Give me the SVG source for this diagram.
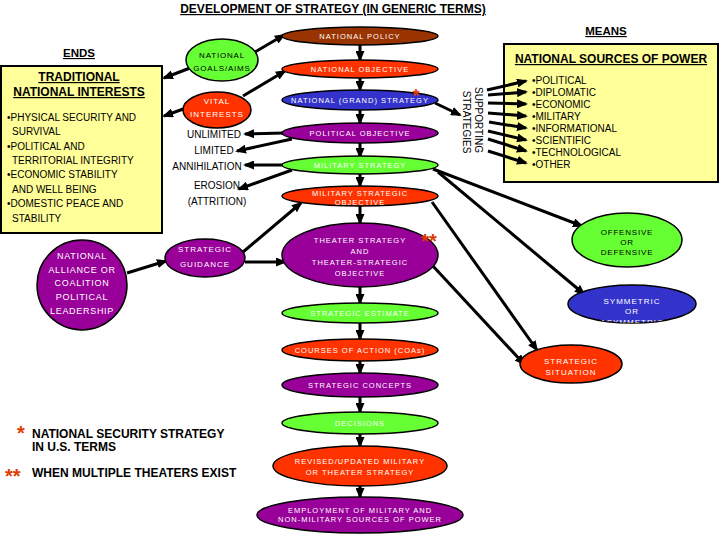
<svg xmlns="http://www.w3.org/2000/svg" width="720" height="540" viewBox="0 0 720 540">
<style>
text{font-family:"Liberation Sans",Arial,sans-serif}
.t{font-size:11.5px;font-weight:bold;text-decoration:underline}
.h{font-size:12px;font-weight:bold;text-decoration:underline}
.b{font-size:10px;fill:#000}
.e{font-size:7.5px;letter-spacing:1px;text-anchor:middle;fill:#fff}
.ed{font-size:8px;letter-spacing:0.8px;text-anchor:middle;fill:#000}
.n{stroke:#000;stroke-width:1.5}
.br{fill:#993300}.rd{fill:#ff3300}.bl{fill:#3333cc}.pu{fill:#990099}.gr{fill:#66ff33}
.box{fill:#ffff99;stroke:#000;stroke-width:2}
.lbl{font-size:10px;text-anchor:middle}
.fn{font-size:12px;font-weight:bold}
.ast{font-size:20px;font-weight:bold;fill:#e03c00}
#conn line{stroke:#000;stroke-width:3;marker-end:url(#ah)}
</style>
<defs>
<marker id="ah" markerUnits="userSpaceOnUse" markerWidth="11" markerHeight="9" refX="9" refY="4.5" orient="auto">
<path d="M0,0 L11,4.5 L0,9 z" fill="#000"/>
</marker>
<clipPath id="symclip"><ellipse cx="632" cy="304" rx="64" ry="19"/></clipPath>
</defs>
<rect width="720" height="540" fill="#fff"/>

<text class="t" x="333" y="13" text-anchor="middle" style="font-size:12px">DEVELOPMENT OF STRATEGY (IN GENERIC TERMS)</text>
<text class="t" x="606" y="35" text-anchor="middle">MEANS</text>
<text class="t" x="79" y="57" text-anchor="middle">ENDS</text>

<g id="ends-box">
<rect class="box" x="1" y="66" width="161" height="167"/>
<text class="h" x="79" y="81" text-anchor="middle">TRADITIONAL</text>
<text class="h" x="79" y="96" text-anchor="middle">NATIONAL INTERESTS</text>
<text class="b" x="7" y="121">•PHYSICAL SECURITY AND</text>
<text class="b" x="12" y="135">SURVIVAL</text>
<text class="b" x="7" y="150">•POLITICAL AND</text>
<text class="b" x="12" y="164">TERRITORIAL INTEGRITY</text>
<text class="b" x="7" y="178">•ECONOMIC STABILITY</text>
<text class="b" x="12" y="193">AND WELL BEING</text>
<text class="b" x="7" y="207">•DOMESTIC PEACE AND</text>
<text class="b" x="12" y="222">STABILITY</text>
</g>

<g id="means-box">
<rect class="box" x="504" y="44" width="214" height="138"/>
<text class="h" x="611" y="63" text-anchor="middle">NATIONAL SOURCES OF POWER</text>
<text class="b" x="532" y="84">•POLITICAL</text>
<text class="b" x="532" y="96">•DIPLOMATIC</text>
<text class="b" x="532" y="108">•ECONOMIC</text>
<text class="b" x="532" y="120">•MILITARY</text>
<text class="b" x="532" y="132">•INFORMATIONAL</text>
<text class="b" x="532" y="144">•SCIENTIFIC</text>
<text class="b" x="532" y="156">•TECHNOLOGICAL</text>
<text class="b" x="532" y="168">•OTHER</text>
</g>

<g id="supporting">
<text class="lbl" transform="translate(475,120) rotate(90)">SUPPORTING</text>
<text class="lbl" transform="translate(463,122) rotate(90)">STRATEGIES</text>
</g>

<g id="conn">
<line x1="190" y1="68" x2="164" y2="78"/>
<line x1="255" y1="52" x2="284" y2="35"/>
<line x1="186" y1="108" x2="164" y2="116"/>
<line x1="243" y1="96" x2="285" y2="71"/>
<line x1="360" y1="45" x2="360" y2="60"/>
<line x1="360" y1="78" x2="360" y2="90"/>
<line x1="360" y1="110" x2="360" y2="123"/>
<line x1="360" y1="143" x2="360" y2="157"/>
<line x1="360" y1="174" x2="360" y2="186"/>
<line x1="360" y1="206" x2="360" y2="223"/>
<line x1="360" y1="287" x2="360" y2="303"/>
<line x1="360" y1="323" x2="360" y2="339"/>
<line x1="360" y1="361" x2="360" y2="373"/>
<line x1="360" y1="397" x2="360" y2="412"/>
<line x1="360" y1="434" x2="360" y2="446"/>
<line x1="360" y1="486" x2="360" y2="497"/>
<line x1="284" y1="133" x2="245" y2="134"/>
<line x1="292" y1="139" x2="237" y2="151"/>
<line x1="285" y1="165" x2="245" y2="165"/>
<line x1="292" y1="170" x2="239" y2="189"/>
<line x1="127" y1="273" x2="166" y2="261"/>
<line x1="243" y1="252" x2="301" y2="203"/>
<line x1="245" y1="262" x2="285" y2="262"/>
<line x1="435" y1="103" x2="460" y2="115"/>
<line x1="487" y1="90" x2="526" y2="81"/>
<line x1="488" y1="95" x2="526" y2="92"/>
<line x1="488" y1="103" x2="526" y2="104"/>
<line x1="488" y1="113" x2="526" y2="116"/>
<line x1="489" y1="122" x2="526" y2="128"/>
<line x1="488" y1="131" x2="526" y2="140"/>
<line x1="488" y1="139" x2="526" y2="151"/>
<line x1="488" y1="151" x2="526" y2="163"/>
<line x1="433" y1="169" x2="582" y2="226"/>
<line x1="438" y1="172" x2="584" y2="294"/>
<line x1="432" y1="202" x2="537" y2="350"/>
<line x1="432" y1="265" x2="524" y2="364"/>
</g>

<g id="national-policy"><ellipse class="n br" cx="360" cy="36" rx="78" ry="9"/><text class="e" x="360" y="39">NATIONAL POLICY</text></g>
<g id="national-objective"><ellipse class="n rd" cx="360" cy="69" rx="78" ry="9"/><text class="e" x="360" y="72">NATIONAL OBJECTIVE</text></g>
<g id="grand-strategy"><ellipse class="n bl" cx="360" cy="100" rx="78" ry="10"/><text class="e" x="360" y="103">NATIONAL (GRAND) STRATEGY</text><text class="ast" x="416" y="102" text-anchor="middle" style="font-size:18px">*</text></g>
<g id="political-objective"><ellipse class="n pu" cx="360" cy="133" rx="78" ry="10"/><text class="e" x="360" y="136">POLITICAL OBJECTIVE</text></g>
<g id="military-strategy"><ellipse class="n gr" cx="360" cy="165" rx="78" ry="9"/><text class="e" x="360" y="168">MILITARY STRATEGY</text></g>
<g id="military-strategic-objective"><ellipse class="n rd" cx="360" cy="196" rx="78" ry="10"/><text class="e" x="360" y="196">MILITARY STRATEGIC</text><text class="e" x="360" y="205">OBJECTIVE</text></g>
<g id="theater"><ellipse class="n pu" cx="360" cy="255" rx="78" ry="32"/><text class="e" x="360" y="243">THEATER STRATEGY</text><text class="e" x="360" y="254">AND</text><text class="e" x="360" y="265">THEATER-STRATEGIC</text><text class="e" x="360" y="276">OBJECTIVE</text><text class="ast" x="429" y="248" text-anchor="middle">**</text></g>
<g id="strategic-estimate"><ellipse class="n gr" cx="360" cy="313" rx="78" ry="10"/><text class="e" x="360" y="316">STRATEGIC ESTIMATE</text></g>
<g id="coas"><ellipse class="n rd" cx="360" cy="350" rx="78" ry="11"/><text class="e" x="360" y="353">COURSES OF ACTION (COAs)</text></g>
<g id="strategic-concepts"><ellipse class="n pu" cx="360" cy="385" rx="78" ry="12"/><text class="e" x="360" y="388">STRATEGIC CONCEPTS</text></g>
<g id="decisions"><ellipse class="n gr" cx="360" cy="423" rx="78" ry="11"/><text class="e" x="360" y="426">DECISIONS</text></g>
<g id="revised"><ellipse class="n rd" cx="360" cy="466" rx="87" ry="20"/><text class="e" x="360" y="464">REVISED/UPDATED MILITARY</text><text class="e" x="360" y="475">OR THEATER STRATEGY</text></g>
<g id="employment"><ellipse class="n pu" cx="360" cy="515" rx="103" ry="18"/><text class="e" x="360" y="513">EMPLOYMENT OF MILITARY AND</text><text class="e" x="360" y="522">NON-MILITARY SOURCES OF POWER</text></g>

<g id="goals"><ellipse class="n gr" cx="222" cy="60" rx="36" ry="21"/><text class="ed" x="222" y="57.5">NATIONAL</text><text class="ed" x="222" y="71">GOALS/AIMS</text></g>
<g id="vital"><ellipse class="n rd" cx="217" cy="110" rx="34" ry="18"/><text class="e" style="font-size:8px" x="217" y="103.5">VITAL</text><text class="e" style="font-size:8px" x="217" y="117">INTERESTS</text></g>

<g id="unlimited"><text class="lbl" x="214" y="138">UNLIMITED</text></g>
<g id="limited"><text class="lbl" x="214" y="154">LIMITED</text></g>
<g id="annihilation"><text class="lbl" x="207" y="170">ANNIHILATION</text></g>
<g id="erosion"><text class="lbl" x="217" y="189">EROSION</text><text class="lbl" x="217" y="205">(ATTRITION)</text></g>

<g id="guidance"><ellipse class="n pu" cx="205" cy="258" rx="40" ry="19"/><text class="e" style="font-size:8px" x="205" y="252">STRATEGIC</text><text class="e" style="font-size:8px" x="205" y="267">GUIDANCE</text></g>
<g id="alliance"><circle class="n pu" cx="82" cy="285" r="45"/><text class="e" style="font-size:9px;letter-spacing:0.7px" x="82" y="258.5">NATIONAL</text><text class="e" style="font-size:9px;letter-spacing:0.7px" x="82" y="272.5">ALLIANCE OR</text><text class="e" style="font-size:9px;letter-spacing:0.7px" x="82" y="286">COALITION</text><text class="e" style="font-size:9px;letter-spacing:0.7px" x="82" y="300">POLITICAL</text><text class="e" style="font-size:9px;letter-spacing:0.7px" x="82" y="314">LEADERSHIP</text></g>

<g id="offensive"><ellipse class="n gr" cx="627" cy="240" rx="55" ry="27"/><text class="ed" x="627" y="234.5">OFFENSIVE</text><text class="ed" x="627" y="245">OR</text><text class="ed" x="627" y="255">DEFENSIVE</text></g>
<g id="symmetric"><ellipse class="n bl" cx="632" cy="304" rx="64" ry="19"/><g clip-path="url(#symclip)"><text class="e" style="font-size:8px" x="632" y="303.5">SYMMETRIC</text><text class="e" style="font-size:8px" x="632" y="314">OR</text><text class="e" style="font-size:8px" x="632" y="324.5">ASYMMETRIC</text></g></g>
<g id="situation"><ellipse class="n rd" cx="571" cy="364" rx="51" ry="19"/><text class="e" style="font-size:8px" x="571" y="363.5">STRATEGIC</text><text class="e" style="font-size:8px" x="571" y="374.5">SITUATION</text></g>

<g id="footnotes">
<text class="ast" x="17" y="440">*</text>
<text class="fn" x="32" y="438">NATIONAL SECURITY STRATEGY</text>
<text class="fn" x="32" y="451">IN U.S. TERMS</text>
<text class="ast" x="5" y="483">**</text>
<text class="fn" x="32" y="477">WHEN MULTIPLE THEATERS EXIST</text>
</g>
</svg>
